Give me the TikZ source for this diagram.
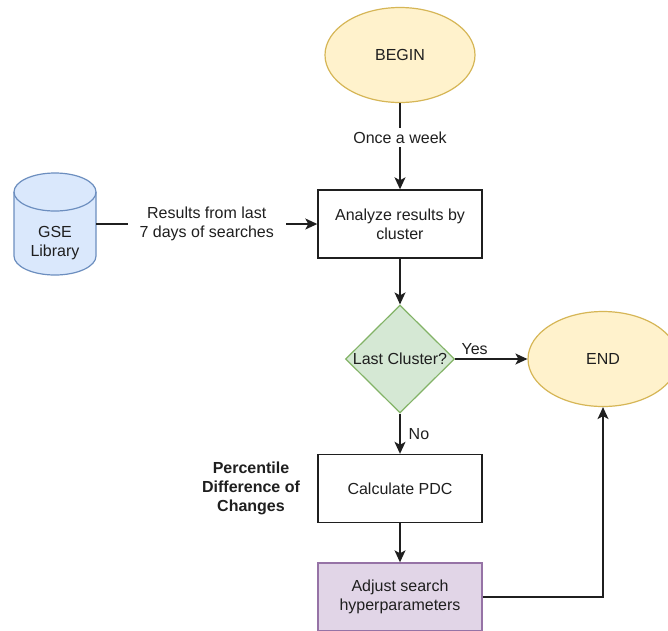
\documentclass[tikz,border=0pt]{standalone}
\usepackage{fontspec}
\setmainfont{Liberation Sans}
\usetikzlibrary{shapes.geometric,arrows.meta}
\definecolor{txt}{HTML}{1F1F1F}
\definecolor{yfill}{HTML}{FFF2CC}\definecolor{ydraw}{HTML}{D6B656}
\definecolor{gfill}{HTML}{D5E8D4}\definecolor{gdraw}{HTML}{82B366}
\definecolor{bfill}{HTML}{DAE8FC}\definecolor{bdraw}{HTML}{6C8EBF}
\definecolor{pfill}{HTML}{E1D5E7}\definecolor{pdraw}{HTML}{9673A6}
\tikzset{
  every node/.style={font=\fontsize{16}{19}\selectfont, text=txt},
  term/.style={ellipse, draw=ydraw, fill=yfill, line width=1.2pt,
    minimum width=150, minimum height=95, inner sep=0pt},
  procbox/.style={rectangle, draw=txt, fill=white, line width=1.4pt,
    minimum width=164, minimum height=68, align=center, inner sep=2pt},
  decision/.style={diamond, draw=gdraw, fill=gfill, line width=1.2pt,
    minimum width=109, minimum height=108, inner sep=0pt},
  lab/.style={fill=white, align=center, inner xsep=12pt, inner ysep=4pt},
  conn/.style={draw=txt, line width=1.4pt},
  arr/.style={conn, -{Stealth[length=12pt,width=11pt,inset=3pt]}},
}
\begin{document}
\begin{tikzpicture}[x=1pt, y=-1pt]
  \clip (0,0) rectangle (668,630);
  \fill[white] (0,0) rectangle (668,630);

  % flowchart nodes
  \node[term] (begin) at (400,55) {BEGIN};
  \node[procbox] (an) at (400,224) {Analyze results by\\cluster};
  \node[decision] (lc) at (400,359) {};
  \node (lctext) at (400,359) {Last Cluster?};
  \node[term] (end) at (603,359) {END};
  \node[procbox] (pdc) at (400,488.5) {Calculate PDC};
  \node[procbox, draw=pdraw, fill=pfill] (adj) at (400,597) {Adjust search\\hyperparameters};

  % data source cylinder
  \node[minimum width=82, minimum height=103, inner sep=0pt] (gse) at (55,224) {};
  \draw[draw=bdraw, fill=bfill, line width=1.2pt]
    (14,192) -- (14,256) arc[start angle=180, end angle=0, x radius=41, y radius=19]
    -- (96,192) arc[start angle=360, end angle=180, x radius=41, y radius=19] -- cycle;
  \draw[draw=bdraw, line width=1.2pt]
    (14,192) arc[start angle=180, end angle=0, x radius=41, y radius=19];
  \node[align=center] (gsetext) at (55,243.5) {GSE\\Library};

  % side note
  \node[font=\bfseries\fontsize{16}{19}\selectfont, align=center] (note) at (251,488.5)
    {Percentile\\Difference of\\Changes};

  % connectors
  \draw[arr] (begin) -- node[lab, pos=0.4] {Once a week} (an);
  \draw[arr] (gse.east) -- node[lab] {Results from last\\7 days of searches} (an.west);
  \draw[arr] (an) -- (lc.north);
  \draw[arr] (lc.east) -- node[above, pos=0.27, inner sep=4pt] {Yes} (end.west);
  \draw[arr] (lc.south) -- node[right, inner sep=8pt] {No} (pdc);
  \draw[arr] (pdc) -- (adj);
  \draw[arr] (adj.east) -| (end.south);
\end{tikzpicture}
\end{document}
